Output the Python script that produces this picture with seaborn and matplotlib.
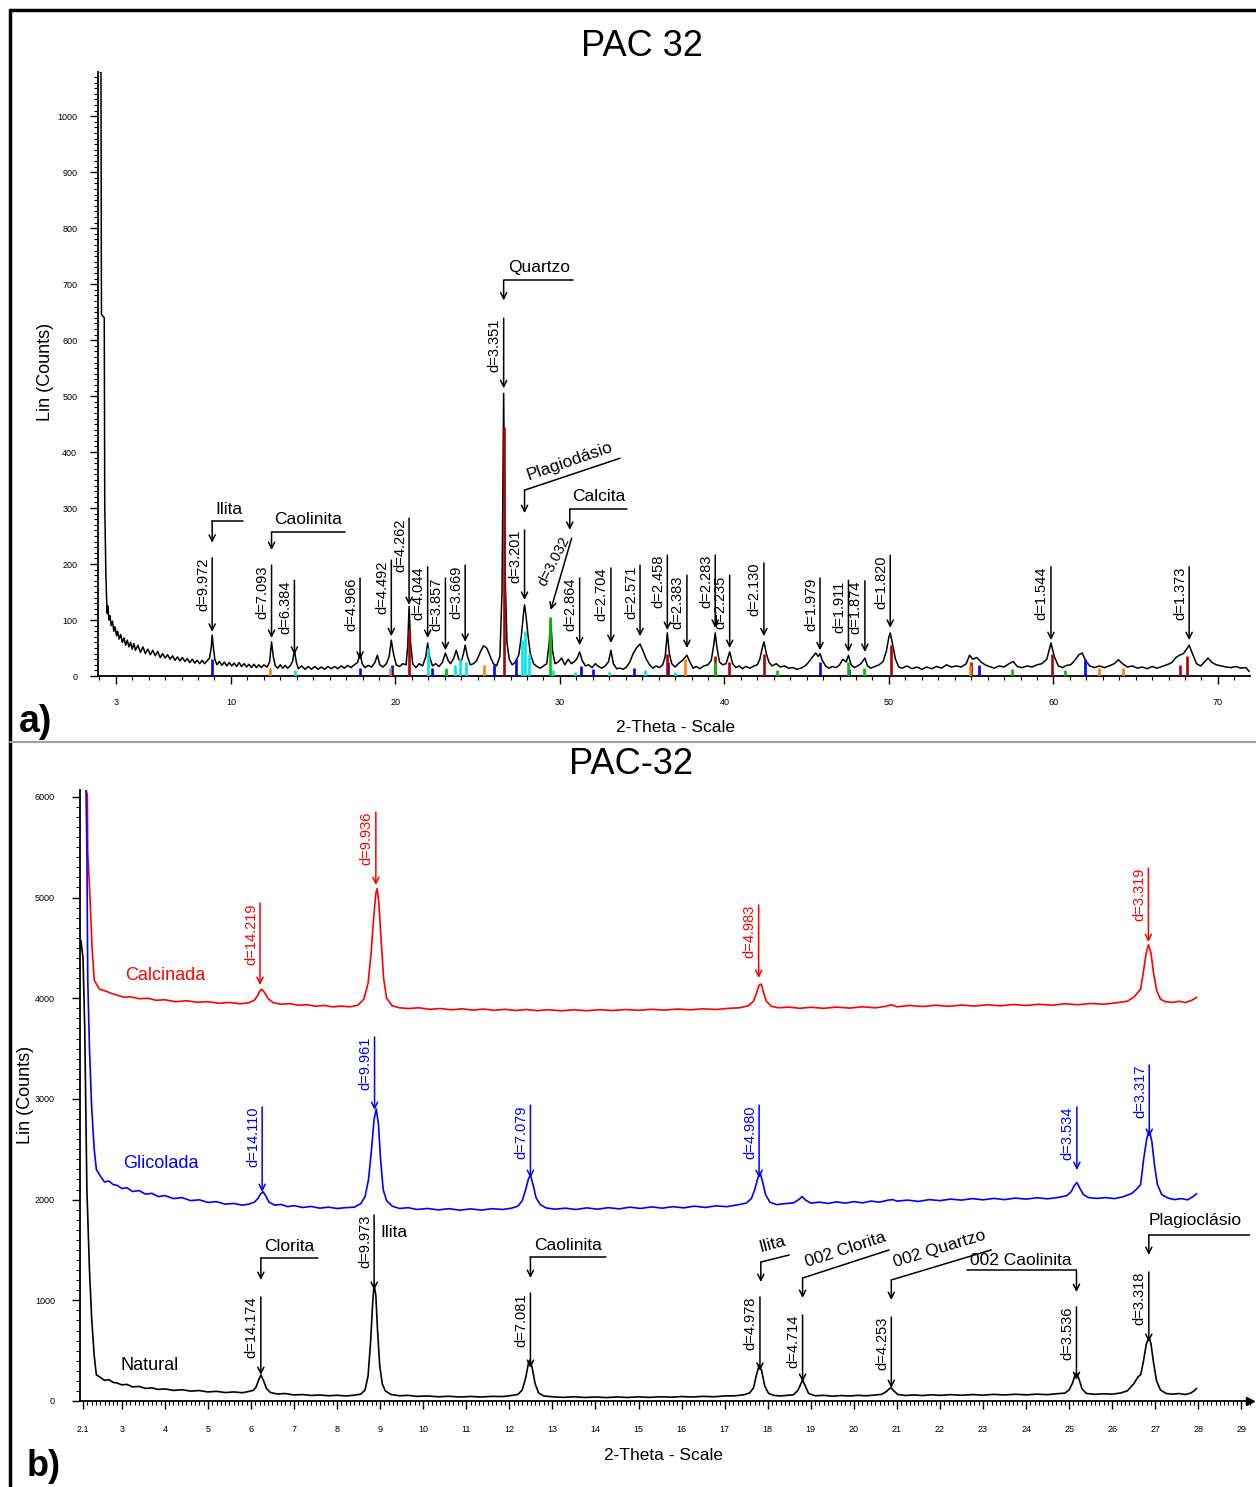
import matplotlib
matplotlib.use('Agg')
import pandas as pd
import matplotlib.pyplot as plt
import seaborn as sns
from matplotlib.lines import Line2D
from matplotlib.ticker import FixedLocator, MultipleLocator

sns.set_style('ticks')
plt.rcParams['font.family'] = ['Liberation Sans', 'DejaVu Sans']
plt.rcParams['text.color'] = 'k'

# ---------------- painel a) : amostra total (2-theta, counts) ----------------
total_pts = [
    (2.04, 1079), (2.10, 1079), (2.13, 646), (2.30, 640), (2.33, 305), (2.40, 180), (2.43, 150),
    (2.47, 112), (2.52, 125), (2.58, 100), (2.65, 108), (2.72, 90), (2.80, 98), (2.88, 80),
    (2.95, 88), (3.05, 72), (3.12, 80), (3.20, 66), (3.30, 74), (3.40, 60), (3.50, 68), (3.60, 55),
    (3.70, 64), (3.80, 52), (3.90, 60), (4.00, 48), (4.10, 58), (4.20, 46), (4.35, 55), (4.50, 42),
    (4.65, 52), (4.80, 40), (4.95, 48), (5.10, 38), (5.25, 46), (5.40, 36), (5.55, 44), (5.70, 33),
    (5.85, 40), (6.00, 32), (6.15, 38), (6.30, 30), (6.45, 36), (6.60, 28), (6.75, 34), (6.90, 27),
    (7.05, 33), (7.20, 26), (7.35, 31), (7.50, 24), (7.65, 30), (7.80, 23), (7.95, 28), (8.10, 22),
    (8.25, 28), (8.40, 22), (8.55, 27), (8.70, 32), (8.80, 50), (8.86, 73), (8.93, 52), (9.02, 30),
    (9.15, 20), (9.30, 26), (9.45, 19), (9.60, 25), (9.75, 18), (9.90, 24), (10.05, 18), (10.20, 23),
    (10.35, 17), (10.50, 24), (10.65, 17), (10.80, 22), (10.95, 16), (11.10, 21), (11.25, 15),
    (11.40, 21), (11.55, 15), (11.70, 20), (11.85, 15), (12.00, 20), (12.20, 16), (12.35, 25),
    (12.47, 61), (12.58, 34), (12.70, 18), (12.85, 14), (13.00, 20), (13.15, 14), (13.30, 19),
    (13.45, 14), (13.60, 18), (13.75, 26), (13.86, 46), (13.98, 24), (14.10, 13), (14.30, 18),
    (14.50, 12), (14.70, 17), (14.90, 12), (15.10, 17), (15.30, 12), (15.50, 16), (15.70, 12),
    (15.90, 17), (16.10, 13), (16.30, 17), (16.50, 13), (16.70, 18), (16.90, 14), (17.10, 19),
    (17.30, 15), (17.50, 20), (17.70, 24), (17.85, 41), (17.98, 22), (18.15, 15), (18.35, 19),
    (18.55, 16), (18.75, 24), (18.90, 37), (19.05, 20), (19.25, 16), (19.45, 22), (19.62, 35),
    (19.75, 64), (19.88, 40), (20.05, 20), (20.25, 17), (20.45, 22), (20.65, 20), (20.75, 55),
    (20.83, 124), (20.92, 60), (21.05, 22), (21.25, 15), (21.45, 22), (21.65, 18), (21.85, 35),
    (21.96, 59), (22.08, 34), (22.25, 18), (22.45, 22), (22.65, 17), (22.85, 24), (23.04, 41),
    (23.20, 28), (23.35, 22), (23.55, 32), (23.70, 46), (23.85, 30), (24.00, 26), (24.12, 38),
    (24.24, 55), (24.38, 35), (24.55, 20), (24.75, 22), (24.95, 28), (25.15, 42), (25.35, 54),
    (25.55, 50), (25.75, 36), (25.95, 22), (26.15, 18), (26.35, 35), (26.48, 150), (26.58, 505),
    (26.68, 170), (26.78, 60), (26.92, 30), (27.10, 20), (27.30, 25), (27.50, 38), (27.65, 70),
    (27.78, 110), (27.85, 127), (27.95, 105), (28.05, 75), (28.20, 40), (28.40, 22), (28.60, 17),
    (28.80, 14), (29.00, 18), (29.20, 22), (29.35, 60), (29.44, 103), (29.55, 45), (29.70, 22),
    (29.90, 25), (30.10, 32), (30.30, 20), (30.50, 30), (30.70, 22), (30.90, 26), (31.05, 32),
    (31.20, 43), (31.35, 28), (31.55, 18), (31.75, 20), (31.95, 15), (32.15, 22), (32.35, 17),
    (32.55, 14), (32.75, 18), (32.95, 25), (33.10, 46), (33.25, 22), (33.45, 13), (33.65, 14),
    (33.85, 12), (34.05, 16), (34.25, 25), (34.45, 40), (34.65, 50), (34.87, 57), (35.05, 45),
    (35.25, 30), (35.45, 20), (35.65, 14), (35.85, 18), (36.05, 15), (36.25, 20), (36.40, 35),
    (36.53, 77), (36.65, 40), (36.80, 22), (37.00, 16), (37.20, 22), (37.45, 28), (37.72, 37),
    (37.90, 25), (38.10, 14), (38.30, 17), (38.50, 13), (38.75, 18), (39.00, 20), (39.20, 28),
    (39.35, 55), (39.44, 77), (39.55, 50), (39.70, 25), (39.90, 20), (40.10, 22), (40.32, 43),
    (40.50, 22), (40.70, 15), (40.90, 18), (41.10, 13), (41.30, 17), (41.55, 14), (41.80, 18),
    (42.00, 20), (42.15, 30), (42.30, 50), (42.40, 61), (42.55, 40), (42.70, 25), (42.90, 18),
    (43.15, 22), (43.40, 16), (43.65, 18), (43.90, 14), (44.15, 15), (44.40, 12), (44.65, 14),
    (44.90, 18), (45.10, 24), (45.30, 32), (45.55, 41), (45.70, 35), (45.81, 40), (45.95, 28),
    (46.15, 18), (46.35, 14), (46.55, 17), (46.80, 15), (47.00, 20), (47.20, 30), (47.40, 25),
    (47.54, 37), (47.70, 20), (47.90, 15), (48.10, 18), (48.30, 22), (48.54, 32), (48.70, 18),
    (48.90, 14), (49.15, 17), (49.40, 20), (49.65, 26), (49.85, 45), (50.00, 70), (50.08, 77),
    (50.20, 60), (50.40, 30), (50.60, 16), (50.80, 14), (51.10, 18), (51.40, 13), (51.70, 16),
    (52.00, 12), (52.30, 16), (52.60, 13), (52.90, 17), (53.20, 14), (53.50, 20), (53.80, 16),
    (54.10, 18), (54.40, 16), (54.70, 22), (54.90, 37), (55.10, 30), (55.35, 33), (55.60, 25),
    (55.85, 20), (56.10, 17), (56.40, 14), (56.70, 18), (57.00, 16), (57.30, 22), (57.55, 26),
    (57.80, 17), (58.10, 15), (58.40, 18), (58.70, 16), (59.00, 20), (59.30, 22), (59.60, 30),
    (59.85, 59), (60.05, 35), (60.30, 18), (60.55, 15), (60.80, 19), (61.05, 20), (61.30, 28),
    (61.55, 38), (61.75, 41), (61.95, 28), (62.20, 18), (62.50, 15), (62.80, 18), (63.10, 15),
    (63.40, 18), (63.70, 22), (63.95, 29), (64.20, 22), (64.50, 16), (64.80, 18), (65.10, 14),
    (65.40, 16), (65.70, 13), (66.00, 17), (66.30, 14), (66.60, 17), (66.90, 20), (67.20, 24),
    (67.45, 33), (67.65, 37), (67.90, 40), (68.10, 48), (68.25, 55), (68.45, 40), (68.70, 22),
    (68.95, 18), (69.15, 24), (69.40, 32), (69.65, 24), (69.90, 20), (70.20, 18), (70.50, 16),
    (70.80, 15), (71.10, 17), (71.40, 14), (71.70, 15), (71.90, 8),
]

# linhas de referencia (fichas) : posicao, altura, cor
stick_pos = [8.86, 17.85, 19.8, 22.2, 26.0, 27.3, 31.3, 32.0, 34.5, 36.6, 45.8, 47.6, 55.5, 61.9,
             20.85, 26.62, 36.5, 39.4, 40.3, 42.4, 50.1, 55.0, 59.9, 68.1, 67.7,
             13.9, 22.0, 23.1, 23.6, 23.9, 24.3, 27.7, 27.9, 28.1, 29.6, 30.9, 33.0, 35.2, 37.0,
             23.05, 29.42, 39.45, 43.2, 47.5, 48.5, 57.5, 60.7,
             12.4, 19.7, 25.4, 37.6, 54.9, 62.8, 64.2]
stick_h = [30, 15, 20, 15, 20, 30, 18, 12, 15, 25, 25, 12, 20, 30,
           82, 445, 40, 35, 25, 40, 55, 25, 40, 35, 20,
           10, 50, 15, 20, 30, 25, 65, 80, 40, 10, 8, 8, 10, 8,
           12, 105, 25, 10, 25, 15, 12, 10,
           15, 15, 20, 30, 20, 15, 15]
stick_col = ['#0000ff'] * 14 + ['#b00000'] * 11 + ['#00e5e5'] * 14 + ['#00c000'] * 8 + ['#ff8000'] * 7

top_d_lbl = ['d=9.972', 'd=7.093', 'd=6.384', 'd=4.966', 'd=4.492', 'd=4.262', 'd=4.044', 'd=3.857',
             'd=3.669', 'd=3.351', 'd=3.201', 'd=2.864', 'd=2.704', 'd=2.571', 'd=2.458', 'd=2.383',
             'd=2.283', 'd=2.235', 'd=2.130', 'd=1.979', 'd=1.911', 'd=1.874', 'd=1.820', 'd=1.544',
             'd=1.373']
top_d_x = [8.86, 12.47, 13.86, 17.85, 19.75, 20.83, 21.96, 23.04, 24.24, 26.58, 27.85, 31.2, 33.1,
           34.87, 36.53, 37.72, 39.44, 40.32, 42.4, 45.81, 47.54, 48.54, 50.08, 59.85, 68.25]
top_d_tip = [79, 68, 38, 29, 71, 127, 68, 46, 61, 514, 136, 55, 59, 71, 82, 50, 86, 50, 71, 46, 43,
             43, 86, 64, 64]
top_d_top = [211, 198, 171, 175, 207, 282, 195, 175, 198, 639, 261, 175, 193, 198, 216, 180, 216,
             180, 202, 175, 171, 170, 216, 195, 195]

# ---------------- painel b) : fracao argila ----------------
natural_pts = [
    (2.05, 4575), (2.10, 4400), (2.14, 3700), (2.19, 2100), (2.25, 1300), (2.30, 830), (2.36, 450),
    (2.41, 260), (2.50, 235), (2.60, 205), (2.70, 212), (2.80, 185), (2.90, 178), (3.00, 160),
    (3.12, 165), (3.25, 140), (3.40, 145), (3.55, 125), (3.70, 130), (3.85, 115), (4.00, 120),
    (4.20, 105), (4.40, 112), (4.60, 98), (4.80, 104), (5.00, 90), (5.20, 96), (5.40, 84), (5.60, 90),
    (5.80, 82), (5.95, 95), (6.05, 105), (6.12, 140), (6.18, 210), (6.23, 258), (6.29, 205),
    (6.36, 125), (6.45, 85), (6.60, 70), (6.80, 74), (7.00, 60), (7.20, 64), (7.40, 55), (7.60, 60),
    (7.80, 52), (8.00, 57), (8.20, 50), (8.40, 58), (8.55, 68), (8.65, 110), (8.72, 250), (8.78, 600),
    (8.83, 1000), (8.86, 1150), (8.90, 1050), (8.94, 700), (8.99, 350), (9.05, 170), (9.12, 100),
    (9.25, 65), (9.45, 52), (9.65, 56), (9.85, 46), (10.1, 50), (10.35, 42), (10.6, 47), (10.85, 40),
    (11.1, 45), (11.35, 40), (11.6, 46), (11.85, 44), (12.05, 55), (12.2, 65), (12.3, 110),
    (12.38, 230), (12.45, 390), (12.48, 407), (12.53, 330), (12.6, 170), (12.68, 80), (12.8, 50),
    (13.0, 42), (13.25, 36), (13.5, 42), (13.75, 35), (14.0, 40), (14.25, 34), (14.5, 40),
    (14.75, 35), (15.0, 41), (15.25, 36), (15.5, 42), (15.75, 38), (16.0, 44), (16.25, 40),
    (16.5, 46), (16.75, 42), (17.0, 50), (17.25, 52), (17.45, 62), (17.58, 80), (17.67, 130),
    (17.74, 260), (17.80, 357), (17.86, 300), (17.93, 150), (18.02, 75), (18.15, 55), (18.3, 50),
    (18.45, 56), (18.6, 62), (18.7, 105), (18.76, 160), (18.81, 208), (18.87, 150), (18.95, 75),
    (19.1, 52), (19.3, 56), (19.5, 48), (19.7, 54), (19.9, 50), (20.1, 56), (20.3, 52), (20.5, 60),
    (20.65, 66), (20.76, 95), (20.83, 125), (20.87, 130), (20.93, 100), (21.02, 65), (21.2, 55),
    (21.4, 60), (21.6, 54), (21.8, 62), (22.0, 56), (22.25, 63), (22.5, 57), (22.75, 64), (23.0, 58),
    (23.25, 66), (23.5, 60), (23.75, 67), (24.0, 61), (24.25, 68), (24.5, 63), (24.7, 72),
    (24.9, 78), (25.0, 110), (25.08, 180), (25.13, 250), (25.17, 278), (25.22, 230), (25.3, 120),
    (25.4, 75), (25.6, 66), (25.8, 72), (26.0, 68), (26.2, 80), (26.35, 100), (26.5, 170),
    (26.6, 240), (26.66, 260), (26.72, 380), (26.79, 560), (26.85, 635), (26.9, 570), (26.96, 380),
    (27.03, 200), (27.12, 110), (27.25, 75), (27.4, 68), (27.55, 74), (27.7, 65), (27.82, 78),
    (27.9, 100), (27.96, 125),
]
glicolada_pts = [
    (2.17, 6070), (2.19, 5470), (2.21, 4180), (2.25, 3500), (2.30, 2920), (2.36, 2500), (2.41, 2300),
    (2.50, 2235), (2.60, 2175), (2.70, 2185), (2.80, 2150), (2.90, 2140), (3.00, 2110), (3.12, 2118),
    (3.25, 2080), (3.40, 2090), (3.55, 2055), (3.70, 2062), (3.85, 2030), (4.00, 2040), (4.20, 2010),
    (4.40, 2020), (4.60, 1990), (4.80, 1998), (5.00, 1972), (5.20, 1980), (5.40, 1955), (5.60, 1962),
    (5.80, 1945), (5.95, 1955), (6.08, 1975), (6.16, 2010), (6.22, 2055), (6.28, 2078), (6.34, 2040),
    (6.42, 1975), (6.55, 1945), (6.70, 1952), (6.85, 1930), (7.00, 1940), (7.20, 1922), (7.40, 1932),
    (7.60, 1915), (7.80, 1925), (8.00, 1912), (8.20, 1920), (8.40, 1925), (8.55, 1960), (8.65, 2030),
    (8.73, 2200), (8.80, 2500), (8.86, 2800), (8.91, 2900), (8.96, 2750), (9.01, 2400), (9.07, 2100),
    (9.15, 1990), (9.28, 1935), (9.45, 1912), (9.65, 1920), (9.85, 1902), (10.1, 1912), (10.35, 1898),
    (10.6, 1910), (10.85, 1895), (11.1, 1908), (11.35, 1896), (11.6, 1910), (11.85, 1902),
    (12.05, 1915), (12.2, 1935), (12.3, 1990), (12.38, 2100), (12.44, 2200), (12.49, 2245),
    (12.55, 2150), (12.62, 2020), (12.72, 1950), (12.85, 1918), (13.05, 1905), (13.3, 1915),
    (13.55, 1902), (13.8, 1918), (14.05, 1905), (14.3, 1920), (14.55, 1908), (14.8, 1925),
    (15.05, 1912), (15.3, 1928), (15.55, 1915), (15.8, 1930), (16.05, 1918), (16.3, 1935),
    (16.55, 1922), (16.8, 1938), (17.05, 1930), (17.3, 1948), (17.5, 1965), (17.62, 2010),
    (17.7, 2100), (17.76, 2200), (17.82, 2270), (17.88, 2180), (17.95, 2050), (18.05, 1975),
    (18.2, 1950), (18.4, 1960), (18.6, 1968), (18.72, 2000), (18.8, 2030), (18.88, 1995), (19.0, 1965),
    (19.2, 1975), (19.4, 1962), (19.6, 1978), (19.8, 1965), (20.0, 1980), (20.2, 1968), (20.4, 1985),
    (20.6, 1975), (20.8, 1995), (20.9, 2000), (21.0, 1985), (21.25, 1995), (21.5, 1982),
    (21.75, 2000), (22.0, 1990), (22.25, 2005), (22.5, 1995), (22.75, 2010), (23.0, 1998),
    (23.25, 2012), (23.5, 2000), (23.75, 2015), (24.0, 2005), (24.25, 2018), (24.5, 2008),
    (24.75, 2022), (24.95, 2040), (25.05, 2080), (25.12, 2140), (25.18, 2170), (25.24, 2120),
    (25.33, 2050), (25.45, 2020), (25.65, 2012), (25.85, 2020), (26.05, 2010), (26.25, 2028),
    (26.45, 2060), (26.58, 2110), (26.66, 2150), (26.73, 2400), (26.80, 2600), (26.86, 2690),
    (26.92, 2580), (26.98, 2350), (27.05, 2150), (27.15, 2050), (27.3, 2015), (27.45, 2000),
    (27.6, 2010), (27.75, 1998), (27.88, 2030), (27.96, 2060),
]
calcinada_pts = [
    (2.17, 6070), (2.20, 6020), (2.21, 5450), (2.26, 5015), (2.31, 4500), (2.36, 4180), (2.48, 4090),
    (2.60, 4075), (2.75, 4050), (2.90, 4030), (3.05, 4010), (3.20, 4015), (3.40, 3995), (3.60, 4000),
    (3.80, 3980), (4.00, 3985), (4.25, 3965), (4.50, 3975), (4.75, 3960), (5.00, 3966), (5.25, 3950),
    (5.50, 3958), (5.75, 3945), (5.95, 3955), (6.08, 3980), (6.16, 4030), (6.21, 4075), (6.25, 4090),
    (6.31, 4060), (6.40, 3995), (6.52, 3955), (6.70, 3940), (6.90, 3946), (7.10, 3930), (7.30, 3936),
    (7.50, 3920), (7.70, 3928), (7.90, 3915), (8.10, 3922), (8.30, 3915), (8.48, 3930), (8.62, 3990),
    (8.72, 4150), (8.79, 4450), (8.85, 4800), (8.90, 5040), (8.93, 5090), (8.97, 4950), (9.02, 4600),
    (9.08, 4200), (9.15, 4000), (9.28, 3925), (9.45, 3905), (9.65, 3898), (9.9, 3905), (10.15, 3890),
    (10.4, 3898), (10.65, 3885), (10.9, 3895), (11.15, 3882), (11.4, 3892), (11.65, 3880),
    (11.9, 3890), (12.15, 3878), (12.4, 3888), (12.65, 3876), (12.9, 3886), (13.2, 3875),
    (13.5, 3885), (13.8, 3876), (14.1, 3886), (14.4, 3878), (14.7, 3888), (15.0, 3880), (15.3, 3890),
    (15.6, 3882), (15.9, 3893), (16.2, 3885), (16.5, 3895), (16.8, 3888), (17.1, 3900),
    (17.35, 3905), (17.55, 3925), (17.67, 3970), (17.74, 4050), (17.8, 4130), (17.85, 4140),
    (17.9, 4060), (17.97, 3970), (18.08, 3920), (18.25, 3905), (18.5, 3912), (18.75, 3900),
    (19.0, 3910), (19.3, 3900), (19.6, 3912), (19.9, 3902), (20.2, 3915), (20.5, 3905),
    (20.75, 3920), (20.87, 3935), (21.0, 3915), (21.3, 3928), (21.6, 3918), (21.9, 3930),
    (22.2, 3920), (22.5, 3932), (22.8, 3922), (23.1, 3935), (23.4, 3925), (23.7, 3938), (24.0, 3928),
    (24.3, 3940), (24.6, 3930), (24.9, 3945), (25.2, 3935), (25.5, 3948), (25.8, 3940), (26.1, 3955),
    (26.35, 3970), (26.5, 4010), (26.6, 4060), (26.66, 4090), (26.72, 4250), (26.79, 4450),
    (26.84, 4530), (26.9, 4450), (26.96, 4250), (27.03, 4080), (27.12, 3990), (27.25, 3965),
    (27.4, 3958), (27.55, 3970), (27.7, 3958), (27.85, 3980), (27.96, 4010),
]

calc_lbl = ['d=14.219', 'd=9.936', 'd=4.983', 'd=3.319']
calc_x = [6.21, 8.90, 17.79, 26.84]
calc_tip = [4131, 5124, 4201, 4558]
calc_top = [4945, 5849, 4926, 5293]

glic_lbl = ['d=14.110', 'd=9.961', 'd=7.079', 'd=4.980', 'd=3.534', 'd=3.317']
glic_x = [6.26, 8.87, 12.49, 17.80, 25.18, 26.86]
glic_tip = [2075, 2890, 2214, 2214, 2294, 2622]
glic_top = [2920, 3615, 2939, 2939, 2920, 3337]

nat_lbl = ['d=14.174', 'd=9.973', 'd=7.081', 'd=4.978', 'd=4.714', 'd=4.253', 'd=3.536', 'd=3.318']
nat_x = [6.23, 8.86, 12.49, 17.82, 18.81, 20.87, 25.17, 26.85]
nat_tip = [258, 1102, 328, 300, 189, 129, 208, 586]
nat_top = [1033, 1847, 1072, 1033, 854, 834, 934, 1281]

RED = '#ff0000'
BLUE = '#0000ff'

fig = plt.figure(figsize=(12.56, 14.87), dpi=100)
ax1 = fig.add_axes([98 / 1256, 1 - 676 / 1487, 1152 / 1256, 604 / 1487])
ax2 = fig.add_axes([80 / 1256, 1 - 1401 / 1487, 1170 / 1256, 611 / 1487])


def trace(ax, pts, color, lw):
    df = pd.DataFrame(pts, columns=['two_theta', 'counts'])
    sns.lineplot(data=df, x='two_theta', y='counts', ax=ax, color=color, lw=lw,
                 estimator=None, sort=False, zorder=2)


def d_mark(ax, x, tip, top, label, color, fs=10.5):
    ax.annotate('', xy=(x, tip), xytext=(x, top),
                arrowprops=dict(arrowstyle='->', color=color, lw=1.1, shrinkA=0, shrinkB=0,
                                mutation_scale=11))
    ax.annotate(label, xy=(x, top), xytext=(-1.5, 0), textcoords='offset points',
                rotation=90, ha='right', va='top', color=color, fontsize=fs)


def leader(ax, x_arrow, y_line, y_tip, x_end, y_end, text, tx, ty, rot=0, fs=12.5):
    ax.plot([x_arrow, x_end], [y_line, y_end], color='k', lw=1.1, zorder=4)
    ax.annotate('', xy=(x_arrow, y_tip), xytext=(x_arrow, y_line),
                arrowprops=dict(arrowstyle='->', color='k', lw=1.1, shrinkA=0, shrinkB=0,
                                mutation_scale=11))
    ax.text(tx, ty, text, ha='center', va='center', rotation=rot, rotation_mode='anchor',
            fontsize=fs)


# ---------- a) ----------
trace(ax1, total_pts, 'k', 1.1)
ax1.vlines(stick_pos, 0, stick_h, colors=stick_col, lw=1.9, zorder=3)
for lb, x, tp, tt in zip(top_d_lbl, top_d_x, top_d_tip, top_d_top):
    d_mark(ax1, x, tp, tt, lb, 'k')
# d=3.032 inclinado
ax1.annotate('', xy=(29.44, 118), xytext=(30.71, 246),
             arrowprops=dict(arrowstyle='->', color='k', lw=1.1, shrinkA=0, shrinkB=0,
                             mutation_scale=11))
ax1.text(29.64, 205, 'd=3.032', rotation=63, ha='center', va='center', rotation_mode='anchor',
         fontsize=10.5)

leader(ax1, 8.86, 277, 238, 10.73, 277, 'Ilita', 9.88, 298)
leader(ax1, 12.47, 257, 225, 16.93, 257, 'Caolinita', 14.68, 280)
leader(ax1, 26.58, 707, 671, 30.79, 707, 'Quartzo', 28.72, 729)
leader(ax1, 27.85, 332, 291, 33.65, 389, 'Plagiodásio', 30.6, 384, rot=19)
leader(ax1, 30.6, 298, 261, 34.07, 298, 'Calcita', 32.37, 320)

ax1.set_xlim(1.92, 71.95)
ax1.set_ylim(0, 1079)
ax1.xaxis.set_major_locator(FixedLocator([3, 10, 20, 30, 40, 50, 60, 70]))
ax1.xaxis.set_minor_locator(MultipleLocator(1))
ax1.yaxis.set_minor_locator(MultipleLocator(10))
ax1.set_yticks(range(0, 1001, 100))
ax1.set_xlabel('')
ax1.set_ylabel('')

# ---------- b) ----------
trace(ax2, calcinada_pts, RED, 1.2)
trace(ax2, glicolada_pts, BLUE, 1.2)
trace(ax2, natural_pts, 'k', 1.2)
for lbls, xs, tips, tops, col in [(calc_lbl, calc_x, calc_tip, calc_top, RED),
                                  (glic_lbl, glic_x, glic_tip, glic_top, BLUE),
                                  (nat_lbl, nat_x, nat_tip, nat_top, 'k')]:
    for lb, x, tp, tt in zip(lbls, xs, tips, tops):
        d_mark(ax2, x, tp, tt, lb, col)

ax2.text(4.0, 4230, 'Calcinada', color=RED, fontsize=13, ha='center', va='center')
ax2.text(3.9, 2360, 'Glicolada', color=BLUE, fontsize=13, ha='center', va='center')
ax2.text(3.65, 350, 'Natural', color='k', fontsize=13, ha='center', va='center')

leader(ax2, 6.23, 1420, 1202, 7.55, 1420, 'Clorita', 6.9, 1530)
ax2.text(9.0, 1670, 'Ilita', fontsize=12.5, ha='left', va='center')
leader(ax2, 12.49, 1430, 1221, 14.25, 1430, 'Caolinita', 13.37, 1540)
leader(ax2, 17.84, 1380, 1182, 18.5, 1450, 'Ilita', 18.1, 1560, rot=15)
leader(ax2, 18.81, 1221, 1023, 20.82, 1500, '002 Clorita', 19.8, 1500, rot=18)
leader(ax2, 20.87, 1202, 1003, 23.19, 1500, '002 Quartzo', 22.0, 1510, rot=17)
leader(ax2, 25.17, 1301, 1082, 22.63, 1301, '002 Caolinita', 23.88, 1395)
leader(ax2, 26.85, 1648, 1450, 29.3, 1648, '', 28.0, 1648)
ax2.text(26.85, 1790, 'Plagioclásio', fontsize=12.5, ha='left', va='center')

ax2.set_xlim(2.03, 29.2)
ax2.set_ylim(0, 6068)
bx = [2.1] + list(range(3, 30))
ax2.xaxis.set_major_locator(FixedLocator(bx))
ax2.set_xticklabels(['2.1'] + [str(v) for v in range(3, 30)])
ax2.xaxis.set_minor_locator(MultipleLocator(0.1))
ax2.yaxis.set_major_locator(MultipleLocator(1000))
ax2.yaxis.set_minor_locator(MultipleLocator(100))
ax2.set_xlabel('')
ax2.set_ylabel('')
ax2.plot(1, 0, marker='>', color='k', ms=6, transform=ax2.transAxes, clip_on=False)

for ax in (ax1, ax2):
    sns.despine(ax=ax)
    ax.patch.set_alpha(0)
    for s in ('left', 'bottom'):
        ax.spines[s].set_linewidth(1.3)
        ax.spines[s].set_color('k')
    ax.tick_params(axis='both', which='major', length=6, width=1, labelsize=6.5,
                   direction='out', colors='k')
    ax.tick_params(axis='both', which='minor', length=3, width=0.8, direction='out', colors='k')
ax1.tick_params(axis='x', which='major', pad=10)
ax1.tick_params(axis='y', which='major', pad=9)
ax2.tick_params(axis='x', which='major', pad=11)
ax2.tick_params(axis='y', which='major', pad=12)

# textos gerais
fig.text(642 / 1256, 1 - 46 / 1487, 'PAC 32', fontsize=26, ha='center', va='center')
fig.text(631 / 1256, 1 - 765 / 1487, 'PAC-32', fontsize=26, ha='center', va='center')
fig.text(45 / 1256, 1 - 372 / 1487, 'Lin (Counts)', fontsize=13, rotation=90,
         ha='center', va='center')
fig.text(25 / 1256, 1 - 1095 / 1487, 'Lin (Counts)', fontsize=13, rotation=90,
         ha='center', va='center')
fig.text(675 / 1256, 1 - 727 / 1487, '2-Theta - Scale', fontsize=12.5, ha='center', va='center')
fig.text(663 / 1256, 1 - 1455 / 1487, '2-Theta - Scale', fontsize=12.5, ha='center', va='center')
fig.text(36 / 1256, 1 - 722 / 1487, 'a)', fontsize=27, fontweight='bold', ha='center', va='center')
fig.text(44 / 1256, 1 - 1467 / 1487, 'b)', fontsize=26, fontweight='bold', ha='center', va='center')

# moldura
fig.add_artist(Line2D([10 / 1256, 1], [1 - 10 / 1487] * 2, color='k', lw=2.5))
fig.add_artist(Line2D([10 / 1256] * 2, [0, 1 - 10 / 1487], color='k', lw=2.5))
fig.add_artist(Line2D([10 / 1256, 1], [1 - 742 / 1487] * 2, color='#a0a0a0', lw=1.5))

fig.savefig('out.png', dpi=100)
